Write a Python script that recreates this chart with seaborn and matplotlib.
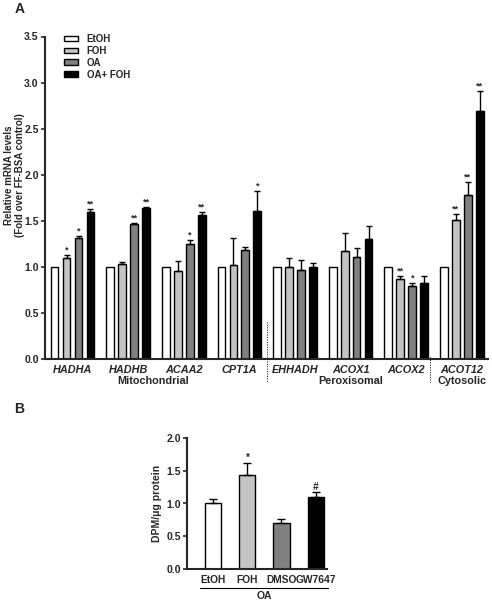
import numpy as np
import pandas as pd
import matplotlib
matplotlib.use("Agg")
import matplotlib.pyplot as plt
import seaborn as sns

# ---------------- data ----------------
genes = ["HADHA", "HADHB", "ACAA2", "CPT1A", "EHHADH", "ACOX1", "ACOX2", "ACOT12"]
treatments = ["EtOH", "FOH", "OA", "OA+ FOH"]
vals_etoh = [1.00, 1.00, 1.00, 1.00, 1.00, 1.00, 1.00, 1.00]
vals_foh = [1.10, 1.03, 0.95, 1.02, 1.00, 1.17, 0.87, 1.51]
vals_oa = [1.31, 1.47, 1.25, 1.18, 0.97, 1.11, 0.79, 1.78]
vals_oafoh = [1.59, 1.64, 1.56, 1.61, 1.00, 1.30, 0.82, 2.69]
err_etoh = [0.0, 0.0, 0.0, 0.0, 0.0, 0.0, 0.0, 0.0]
err_foh = [0.03, 0.02, 0.11, 0.29, 0.10, 0.20, 0.03, 0.06]
err_oa = [0.03, 0.01, 0.04, 0.04, 0.10, 0.09, 0.03, 0.14]
err_oafoh = [0.04, 0.01, 0.04, 0.21, 0.04, 0.14, 0.08, 0.22]
sig_etoh = ["", "", "", "", "", "", "", ""]
sig_foh = ["*", "", "", "", "", "", "**", "**"]
sig_oa = ["*", "**", "*", "", "", "", "*", "**"]
sig_oafoh = ["**", "**", "**", "*", "", "", "", "**"]
group_labels = ["Mitochondrial", "Peroxisomal", "Cytosolic"]

b_labels = ["EtOH", "FOH", "DMSO", "GW7647"]
b_values = [1.00, 1.44, 0.70, 1.10]
b_errors = [0.07, 0.17, 0.07, 0.07]
b_sig = ["", "*", "", "#"]

colors = ["#ffffff", "#c4c4c4", "#808080", "#000000"]

# ---------------- style ----------------
sns.set_style("ticks")
plt.rcParams["font.family"] = ["Liberation Sans", "DejaVu Sans"]
plt.rcParams["font.weight"] = "bold"
plt.rcParams["axes.labelweight"] = "bold"

fig = plt.figure(figsize=(4.92, 6.0), dpi=100)

# ---------------- panel A ----------------
axA = fig.add_axes([45 / 492, 1 - 359 / 600, 443 / 492, 322.5 / 600])

rows = []
for ti, (t, vals) in enumerate(zip(treatments, [vals_etoh, vals_foh, vals_oa, vals_oafoh])):
    for g, v in zip(genes, vals):
        rows.append({"gene": g, "treatment": t, "value": v})
dfA = pd.DataFrame(rows)

sns.barplot(data=dfA, x="gene", y="value", hue="treatment", order=genes,
            hue_order=treatments, palette=colors, edgecolor="black",
            linewidth=1.0, width=0.86, gap=0.35, errorbar=None, ax=axA,
            saturation=1)

errs = [err_etoh, err_foh, err_oa, err_oafoh]
sigs = [sig_etoh, sig_foh, sig_oa, sig_oafoh]
bar_containers = list(axA.containers)
for ci, cont in enumerate(bar_containers):
    for bi, bar in enumerate(cont.patches):
        xc = bar.get_x() + bar.get_width() / 2
        h = bar.get_height()
        e = errs[ci][bi]
        if e > 0:
            axA.errorbar(xc, h, yerr=[[0], [e]], fmt="none", ecolor="black",
                         elinewidth=1.0, capsize=2.2, capthick=1.0)
        if sigs[ci][bi]:
            axA.text(xc, h + e + 0.005, sigs[ci][bi], ha="center", va="bottom",
                     fontsize=6.5, fontweight="bold")

axA.set_ylim(0, 3.5)
axA.set_xlim(-0.495, 7.47)
axA.set_yticks(np.arange(0, 3.51, 0.5))
axA.set_yticklabels([f"{v:.1f}" for v in np.arange(0, 3.51, 0.5)], fontsize=7.5, fontweight="bold")
axA.set_xticks(range(len(genes)))
axA.set_xticklabels(genes, fontsize=7.8, fontweight="bold", fontstyle="italic")
axA.tick_params(axis="x", length=0, pad=4)
axA.tick_params(axis="y", length=3, width=1.2, pad=1.5)
axA.set_xlabel("")
axA.set_ylabel("Relative mRNA levels\n(Fold over FF-BSA control)", fontsize=7.0,
               fontweight="bold", linespacing=1.1)
axA.yaxis.set_label_coords(-0.046, 0.57)
for s in ["top", "right"]:
    axA.spines[s].set_visible(False)
for s in ["left", "bottom"]:
    axA.spines[s].set_linewidth(1.5)

h, l = axA.get_legend_handles_labels()
axA.legend(h, l, loc="upper left", bbox_to_anchor=(0.035, 1.02), frameon=False,
           handlelength=1.4, handleheight=0.55, labelspacing=0.2,
           handletextpad=0.9, borderaxespad=0, prop={"weight": "bold", "size": 7})

# dotted separators
axA.plot([3.49, 3.49], [0.40, -0.25], ls=(0, (1, 1.5)), color="black", lw=0.7, clip_on=False)
axA.plot([6.42, 6.42], [0.02, -0.25], ls=(0, (1, 1.5)), color="black", lw=0.7, clip_on=False)

# group labels
gpos = [1.45, 5.0, 7.0]
for gp, gl in zip(gpos, group_labels):
    axA.text(gp, -0.24, gl, ha="center", va="center", fontsize=7.8, fontweight="bold",
             clip_on=False)

# ---------------- panel B ----------------
axB = fig.add_axes([187 / 492, 1 - 569.3 / 600, 140 / 492, 131.6 / 600])
dfB = pd.DataFrame({"cond": b_labels, "value": b_values})
sns.barplot(data=dfB, x="cond", y="value", hue="cond", order=b_labels,
            hue_order=b_labels, palette=colors, edgecolor="black", linewidth=1.0,
            width=0.47, errorbar=None, ax=axB, legend=False, saturation=1)
bcont = list(axB.containers)
for cont in bcont:
    for bar in cont.patches:
        xc = bar.get_x() + bar.get_width() / 2
        hgt = bar.get_height()
        i = int(round(xc))
        axB.errorbar(xc, hgt, yerr=[[0], [b_errors[i]]], fmt="none", ecolor="black",
                     elinewidth=1.0, capsize=3, capthick=1.0)
        if b_sig[i]:
            axB.text(xc, hgt + b_errors[i] + 0.01, b_sig[i], ha="center", va="bottom",
                     fontsize=7.5, fontweight="bold")
axB.set_ylim(0, 2.0)
axB.set_xlim(-0.76, 3.33)
axB.set_yticks(np.arange(0, 2.01, 0.5))
axB.set_yticklabels([f"{v:.1f}" for v in np.arange(0, 2.01, 0.5)], fontsize=7.5, fontweight="bold")
axB.set_xticks(range(4))
axB.set_xticklabels(b_labels, fontsize=7.4, fontweight="bold")
axB.tick_params(axis="x", length=0, pad=4)
axB.tick_params(axis="y", length=3, width=1.2, pad=1.5)
axB.set_xlabel("")
axB.set_ylabel("DPM/\u03bcg protein", fontsize=7.5, fontweight="bold", labelpad=3)
for s in ["top", "right"]:
    axB.spines[s].set_visible(False)
for s in ["left", "bottom"]:
    axB.spines[s].set_linewidth(1.5)
axB.plot([-0.38, 3.35], [-0.28, -0.28], color="black", lw=0.8, clip_on=False)
axB.text(1.5, -0.41, "OA", ha="center", va="center", fontsize=7.5, fontweight="bold",
         clip_on=False)

fig.text(15 / 492, 1 - 9 / 600, "A", fontsize=10, fontweight="bold", va="center", ha="left")
fig.text(14 / 492, 1 - 409 / 600, "B", fontsize=10, fontweight="bold", va="center", ha="left")

fig.savefig("out.png", dpi=100)
